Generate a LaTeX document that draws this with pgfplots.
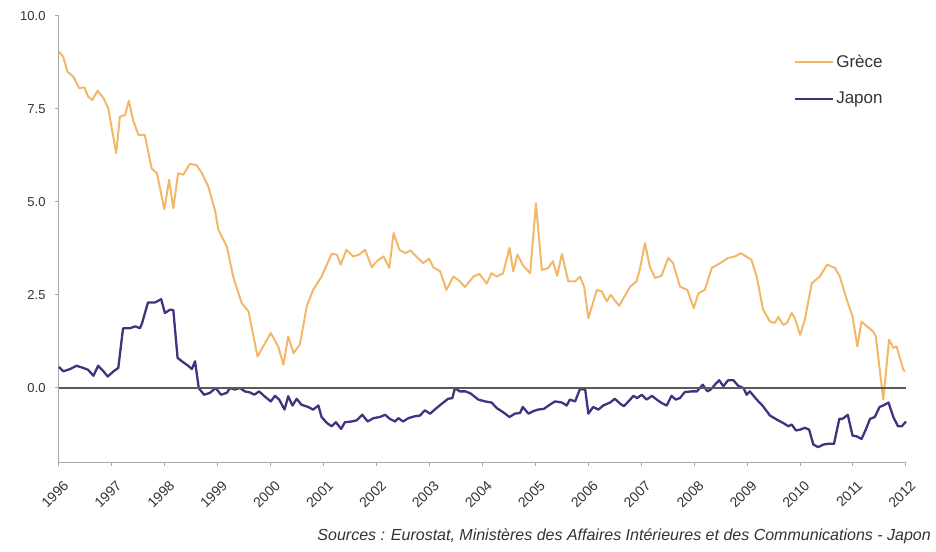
\documentclass[border=0pt]{standalone}
\usepackage{pgfplots}
\pgfplotsset{compat=1.18}
\usepackage{fontspec}
\setmainfont{Liberation Sans}
\definecolor{grece}{HTML}{F3B768}
\definecolor{japon}{HTML}{46307F}
\definecolor{axisgray}{HTML}{A8A8A8}
\definecolor{zerogray}{HTML}{5A5A5A}
\definecolor{txt}{HTML}{333333}
\begin{document}
\begin{tikzpicture}
\begin{axis}[
  scale only axis,
  width=847bp, height=446bp,
  xmin=1996, xmax=2012, ymin=-2, ymax=10,
  clip=false,
  axis x line*=bottom, axis y line*=left,
  axis line style={axisgray, line width=1bp},
  tick style={axisgray, line width=1bp},
  tick align=outside,
  major tick length=4bp,
  xtick={1996,1997,...,2012},
  ytick={0,2.5,5,7.5,10},
  /pgf/number format/assume math mode=true,
  xticklabel style={/pgf/number format/1000 sep={}, rotate=45, anchor=north east, font=\fontsize{14bp}{16bp}\selectfont, text=txt, inner sep=1bp, yshift=-11bp, xshift=-6bp},
  yticklabel style={/pgf/number format/fixed, /pgf/number format/fixed zerofill, /pgf/number format/precision=1, font=\fontsize{13bp}{15bp}\selectfont, text=txt, xshift=-6bp},
  legend style={at={(0.864,0.9215)}, anchor=north west, draw=none, fill=none, font=\fontsize{17bp}{20bp}\selectfont, row sep=19bp, text=txt},
  legend cell align=left,
  legend image code/.code={\draw[#1] (0bp,0bp) -- (32bp,0bp); \path (0bp,0bp) -- (38bp,0bp);},
]
\addplot[grece, line width=2bp, line join=round] coordinates {
(1996.00,9.04)(1996.08,8.9)(1996.16,8.5)(1996.27,8.37)(1996.38,8.06)(1996.48,8.08)(1996.55,7.83)(1996.63,7.74)(1996.73,7.99)(1996.84,7.79)(1996.93,7.52)
(1997.08,6.31)(1997.15,7.29)(1997.25,7.34)(1997.32,7.72)(1997.40,7.2)(1997.50,6.8)(1997.62,6.8)(1997.75,5.9)(1997.85,5.77)(1997.99,4.80)
(1998.08,5.59)(1998.16,4.83)(1998.25,5.77)(1998.35,5.73)(1998.47,6.02)(1998.60,5.99)(1998.70,5.77)(1998.82,5.41)(1998.95,4.75)
(1999.01,4.25)(1999.17,3.80)(1999.29,2.99)(1999.45,2.28)(1999.58,2.05)(1999.75,0.84)
(2000.00,1.47)(2000.14,1.11)(2000.24,0.62)(2000.33,1.38)(2000.43,0.93)(2000.55,1.16)(2000.68,2.19)(2000.80,2.63)(2000.96,2.99)
(2001.15,3.60)(2001.25,3.58)(2001.32,3.31)(2001.43,3.71)(2001.56,3.53)(2001.67,3.58)(2001.78,3.71)(2001.91,3.24)
(2002.00,3.40)(2002.13,3.53)(2002.24,3.22)(2002.32,4.16)(2002.43,3.71)(2002.54,3.62)(2002.64,3.69)(2002.76,3.51)(2002.88,3.35)(2002.99,3.47)
(2003.07,3.24)(2003.20,3.13)(2003.32,2.63)(2003.45,2.99)(2003.54,2.90)(2003.67,2.71)(2003.83,2.99)(2003.94,3.06)
(2004.08,2.80)(2004.17,3.08)(2004.27,2.99)(2004.39,3.08)(2004.51,3.76)(2004.58,3.13)(2004.66,3.58)(2004.77,3.28)(2004.90,3.08)
(2005.01,4.96)(2005.12,3.17)(2005.24,3.22)(2005.33,3.40)(2005.41,3.01)(2005.50,3.60)(2005.62,2.86)(2005.75,2.86)(2005.84,2.99)(2005.92,2.72)
(2006.00,1.87)(2006.16,2.63)(2006.25,2.59)(2006.35,2.32)(2006.42,2.50)(2006.58,2.20)(2006.79,2.72)(2006.91,2.86)(2006.97,3.17)
(2007.07,3.89)(2007.16,3.26)(2007.26,2.95)(2007.38,3.01)(2007.51,3.49)(2007.60,3.35)(2007.73,2.72)(2007.87,2.63)(2007.99,2.14)
(2008.08,2.54)(2008.20,2.63)(2008.33,3.22)(2008.49,3.35)(2008.64,3.49)(2008.77,3.53)(2008.88,3.62)
(2009.08,3.44)(2009.18,2.99)(2009.30,2.10)(2009.43,1.78)(2009.52,1.74)(2009.59,1.90)(2009.68,1.69)(2009.75,1.74)(2009.84,2.01)(2009.90,1.87)
(2010.00,1.42)(2010.09,1.83)(2010.22,2.81)(2010.37,2.99)(2010.51,3.31)(2010.66,3.22)(2010.75,2.99)(2010.88,2.37)(2010.99,1.92)
(2011.08,1.11)(2011.16,1.78)(2011.26,1.65)(2011.38,1.51)(2011.43,1.38)(2011.57,-0.32)(2011.68,1.29)(2011.76,1.07)(2011.82,1.11)(2011.95,0.48)(2011.98,0.44)
};
\addlegendentry{Grèce}
\addplot[japon, line width=2.3bp, line join=round] coordinates {
(1996.00,0.56)(1996.08,0.44)(1996.21,0.50)(1996.33,0.59)(1996.46,0.53)(1996.55,0.48)(1996.65,0.32)(1996.74,0.59)(1996.84,0.44)(1996.92,0.30)
(1997.03,0.44)(1997.12,0.53)(1997.21,1.60)(1997.34,1.60)(1997.44,1.65)(1997.53,1.60)(1997.57,1.74)(1997.68,2.29)(1997.81,2.29)(1997.93,2.38)
(1998.00,2.01)(1998.10,2.10)(1998.16,2.08)(1998.24,0.80)(1998.35,0.68)(1998.44,0.59)(1998.51,0.50)(1998.57,0.71)(1998.64,-0.01)(1998.74,-0.19)(1998.85,-0.14)(1998.96,-0.01)
(1999.06,-0.19)(1999.17,-0.14)(1999.23,-0.01)(1999.32,-0.05)(1999.42,-0.01)(1999.51,-0.10)(1999.61,-0.13)(1999.69,-0.19)(1999.78,-0.10)(1999.88,-0.23)
(2000.00,-0.37)(2000.08,-0.22)(2000.16,-0.32)(2000.26,-0.59)(2000.33,-0.23)(2000.41,-0.48)(2000.49,-0.30)(2000.58,-0.46)(2000.71,-0.52)(2000.80,-0.59)(2000.90,-0.48)(2000.96,-0.79)
(2001.06,-0.95)(2001.15,-1.04)(2001.23,-0.93)(2001.33,-1.11)(2001.40,-0.93)(2001.53,-0.91)(2001.62,-0.88)(2001.73,-0.73)(2001.83,-0.91)(2001.94,-0.82)
(2002.06,-0.79)(2002.16,-0.73)(2002.25,-0.84)(2002.35,-0.91)(2002.41,-0.82)(2002.50,-0.91)(2002.60,-0.82)(2002.72,-0.77)(2002.82,-0.75)(2002.91,-0.61)
(2003.01,-0.70)(2003.13,-0.55)(2003.26,-0.40)(2003.35,-0.30)(2003.43,-0.28)(2003.48,-0.01)(2003.57,-0.10)(2003.68,-0.10)(2003.78,-0.16)(2003.92,-0.32)
(2004.05,-0.37)(2004.17,-0.40)(2004.27,-0.55)(2004.39,-0.66)(2004.51,-0.79)(2004.61,-0.70)(2004.71,-0.68)(2004.76,-0.52)(2004.87,-0.70)(2004.96,-0.63)
(2005.05,-0.59)(2005.16,-0.57)(2005.27,-0.46)(2005.37,-0.37)(2005.50,-0.40)(2005.59,-0.48)(2005.65,-0.32)(2005.75,-0.37)(2005.84,-0.04)(2005.94,-0.05)
(2006.00,-0.70)(2006.09,-0.52)(2006.19,-0.59)(2006.28,-0.48)(2006.41,-0.40)(2006.50,-0.30)(2006.60,-0.43)(2006.67,-0.50)(2006.79,-0.32)(2006.85,-0.22)(2006.92,-0.28)
(2007.01,-0.19)(2007.10,-0.32)(2007.20,-0.22)(2007.29,-0.32)(2007.38,-0.41)(2007.48,-0.48)(2007.57,-0.22)(2007.65,-0.32)(2007.73,-0.28)(2007.82,-0.12)(2007.95,-0.10)
(2008.05,-0.10)(2008.16,0.08)(2008.25,-0.10)(2008.31,-0.05)(2008.39,0.08)(2008.47,0.20)(2008.55,0.04)(2008.64,0.20)(2008.74,0.20)(2008.83,0.05)(2008.93,-0.01)(2008.99,-0.19)
(2009.05,-0.10)(2009.18,-0.32)(2009.30,-0.50)(2009.43,-0.75)(2009.56,-0.86)(2009.68,-0.95)(2009.78,-1.04)(2009.84,-0.99)(2009.92,-1.15)
(2010.00,-1.13)(2010.09,-1.08)(2010.17,-1.13)(2010.25,-1.53)(2010.34,-1.60)(2010.44,-1.53)(2010.53,-1.51)(2010.64,-1.51)(2010.74,-0.84)(2010.80,-0.84)(2010.90,-0.73)(2010.99,-1.29)
(2011.07,-1.31)(2011.16,-1.38)(2011.24,-1.13)(2011.32,-0.84)(2011.41,-0.79)(2011.50,-0.52)(2011.57,-0.48)(2011.67,-0.40)(2011.76,-0.79)(2011.85,-1.04)(2011.92,-1.04)(2012.00,-0.91)
};
\addlegendentry{Japon}
\addplot[zerogray, line width=1.8bp, forget plot] coordinates {(1996,0)(2012,0)};
\node[anchor=base east, inner sep=0pt, font=\fontsize{16bp}{18bp}\selectfont\itshape, text=txt] at (rel axis cs:1.0295,-0.177) {Sources : Eurostat, Ministères des Affaires Intérieures et des Communications - Japon};
\end{axis}
\pgfresetboundingbox
\useasboundingbox ([xshift=-59bp,yshift=-90bp]current axis.south west) rectangle ([xshift=877bp,yshift=462bp]current axis.south west);
\end{tikzpicture}
\end{document}
